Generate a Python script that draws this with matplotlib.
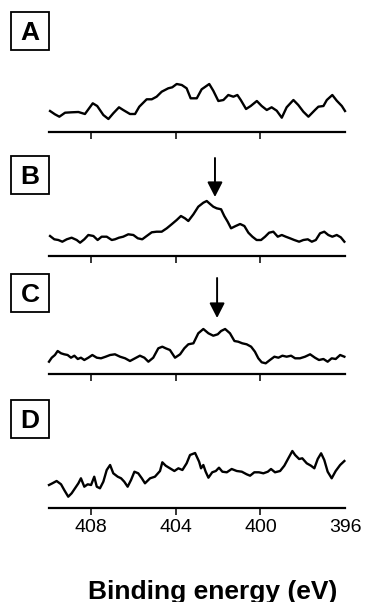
import numpy as np
import matplotlib
matplotlib.use('Agg')
import matplotlib.pyplot as plt
from matplotlib.patches import Rectangle

plt.rcParams['font.family'] = ['Liberation Sans', 'DejaVu Sans']

# binding energy (eV) and intensity (arb. units)
eA = [409.95, 409.72, 409.51, 409.24, 408.93, 408.61, 408.30, 407.93, 407.72, 407.43,
      407.19, 406.96, 406.69, 406.49, 406.17, 405.93, 405.73, 405.38, 405.14, 404.91,
      404.67, 404.36, 404.17, 403.96, 403.72, 403.49, 403.30, 403.01, 402.78, 402.42,
      402.23, 401.99, 401.75, 401.52, 401.28, 401.09, 400.93, 400.68, 400.46, 400.17,
      399.94, 399.70, 399.47, 399.23, 398.99, 398.76, 398.44, 398.21, 397.97, 397.73,
      397.42, 397.26, 397.02, 396.86, 396.60, 396.39, 396.15, 396.00]
iA = [21, 17.7, 15.3, 19.3, 19.7, 20, 18, 28.7, 26, 17,
      13, 18.7, 24.7, 22, 18, 18, 25.3, 32.7, 32.7, 35.3,
      40.3, 43.7, 44.7, 48, 47, 43.7, 33.7, 33.7, 42.7, 48,
      41.3, 31, 32, 37, 35.3, 37, 32, 23, 26, 31,
      26, 22, 24.7, 21.3, 14.3, 24.7, 32, 27, 20.3, 15.3,
      22, 25.3, 26, 32, 37, 31.3, 26, 21]

eB = [409.95, 409.75, 409.56, 409.37, 409.16, 408.93, 408.69, 408.53, 408.33, 408.14,
      407.90, 407.70, 407.51, 407.27, 407.03, 406.88, 406.69, 406.49, 406.25, 406.01,
      405.80, 405.59, 405.38, 405.14, 404.91, 404.67, 404.43, 404.20, 403.96, 403.76,
      403.57, 403.41, 403.17, 402.94, 402.70, 402.54, 402.38, 402.23, 402.07, 401.86,
      401.71, 401.55, 401.39, 401.17, 400.96, 400.76, 400.57, 400.38, 400.18, 399.97,
      399.78, 399.59, 399.39, 399.18, 398.99, 398.80, 398.60, 398.40, 398.17, 397.97,
      397.76, 397.57, 397.38, 397.18, 396.98, 396.79, 396.60, 396.39, 396.20, 396.03]
iB = [19.7, 16.4, 15.7, 14, 16.4, 18, 15.7, 13, 16.4, 20.7,
      19.7, 15.7, 19, 19, 15.7, 16.4, 18, 19, 21.4, 20.7,
      17.4, 16.4, 19.7, 23.4, 24, 24, 27.4, 31.4, 35.7, 39.7,
      37.4, 34.7, 41.4, 49, 53, 54.7, 51.7, 49, 47.4, 46.4,
      39.7, 34, 27.4, 29.7, 31.7, 29.7, 23, 19, 15.7, 15.7,
      19, 23, 24, 19, 20.7, 19, 17.4, 15.7, 14, 15.7,
      16.4, 14, 15.7, 22.4, 24, 20.7, 19, 20.7, 18.4, 14]

eC = [410.00, 409.87, 409.72, 409.59, 409.43, 409.28, 409.12, 408.96, 408.80, 408.64,
      408.49, 408.33, 408.14, 407.95, 407.74, 407.54, 407.32, 407.11, 406.88, 406.64,
      406.40, 406.17, 405.93, 405.70, 405.49, 405.30, 405.07, 404.83, 404.64, 404.48,
      404.28, 404.04, 403.80, 403.60, 403.41, 403.17, 402.94, 402.70, 402.46, 402.23,
      402.02, 401.86, 401.67, 401.44, 401.23, 401.05, 400.86, 400.65, 400.44, 400.26,
      400.10, 399.94, 399.75, 399.55, 399.34, 399.15, 398.96, 398.76, 398.55, 398.36,
      398.13, 397.89, 397.65, 397.42, 397.23, 397.02, 396.82, 396.63, 396.44, 396.23,
      396.03]
iC = [12.3, 16.3, 19, 23, 20.7, 19.7, 19, 16.3, 18.3, 15,
      16.3, 14, 16.3, 19, 16.3, 15.7, 17.3, 19, 19.7, 17.3,
      15.7, 13, 15.7, 18.3, 16.3, 12.3, 16.3, 25.7, 27.3, 25.7,
      24, 16.3, 19.7, 25.7, 29.7, 30.7, 40.7, 45, 40.7, 38.3,
      39.7, 43, 45, 40.7, 33, 32.3, 30.7, 29.7, 27.3, 22.3,
      15.7, 11.7, 10.7, 14, 17.3, 16.3, 18.3, 17.3, 18.3, 15.7,
      15.7, 17.3, 19.7, 16.3, 14, 15, 12.3, 15.7, 15, 19,
      17.3]

eD = [410.00, 409.84, 409.64, 409.43, 409.28, 409.09, 408.93, 408.77, 408.61, 408.49,
      408.33, 408.17, 408.01, 407.86, 407.74, 407.59, 407.43, 407.27, 407.11, 406.96,
      406.75, 406.59, 406.44, 406.28, 406.12, 405.96, 405.78, 405.61, 405.46, 405.22,
      404.99, 404.75, 404.64, 404.48, 404.28, 404.07, 403.88, 403.69, 403.49, 403.33,
      403.09, 402.90, 402.81, 402.70, 402.59, 402.46, 402.28, 402.11, 401.96, 401.80,
      401.59, 401.36, 401.12, 400.88, 400.65, 400.49, 400.29, 400.07, 399.86, 399.65,
      399.50, 399.31, 399.07, 398.87, 398.68, 398.49, 398.36, 398.17, 398.02, 397.81,
      397.61, 397.45, 397.29, 397.13, 396.98, 396.82, 396.63, 396.44, 396.23, 396.03]
iD = [22.7, 24.4, 26.7, 23.4, 17.7, 11, 14.4, 19.4, 24.4, 29.4,
      21, 23.4, 22.7, 31, 21, 19.4, 26, 37.7, 42.7, 34.4,
      31, 29.4, 26, 21, 27.7, 36, 34.4, 29.4, 24.4, 29.4,
      31, 36.7, 45.4, 42, 39.4, 36.7, 39.4, 37.7, 44.4, 52.7,
      54.7, 46, 39.4, 42.7, 36, 30, 35.4, 36.7, 40, 36,
      35.4, 38.7, 36.7, 36, 33.4, 32, 35.4, 35.4, 34.4, 36,
      38.7, 35.4, 36.7, 42, 49.4, 56.7, 52.7, 48.7, 49.4, 44.4,
      42, 39.4, 48.7, 54.4, 47.7, 36, 29.4, 36.7, 42.7, 46.7]

panel_labels = ['A', 'B', 'C', 'D']
energies = [eA, eB, eC, eD]
intens = [iA, iB, iC, iD]
tick_vals = [408, 404, 400, 396]
arrow_pos = {1: 402.15, 2: 402.05}   # N 1s marker (eV)

W, H = 369, 602
fig = plt.figure(figsize=(W / 100, H / 100), dpi=100)

axis_y = [132, 255.7, 374, 507.7]     # pixel row of each baseline
box_top = [12, 156, 274, 400]
arrow_span = {1: (58.7, 97.7), 2: (56, 96)}

for k in range(4):
    yb = axis_y[k]
    ax = fig.add_axes([49 / W, (H - yb) / H, 296 / W, 60 / H])
    ax.plot(energies[k], intens[k], color='black', lw=1.7, clip_on=False)
    ax.set_xlim(410, 396)
    ax.set_ylim(0, 60)
    ax.patch.set_visible(False)
    for s in ['left', 'right', 'top']:
        ax.spines[s].set_visible(False)
    ax.spines['bottom'].set_linewidth(1.6)
    ax.set_yticks([])
    ax.set_xticks(tick_vals)
    ax.tick_params(axis='x', direction='out', length=5, width=1.1, pad=3,
                   labelsize=14)
    ax.xaxis.get_major_ticks()[-1].tick1line.set_visible(False)
    if k < 3:
        ax.set_xticklabels([])
    if k in arrow_pos:
        tip, tail = arrow_span[k]
        ax.annotate('', xy=(arrow_pos[k], tip), xytext=(arrow_pos[k], tail),
                    annotation_clip=False,
                    arrowprops=dict(arrowstyle='-|>,head_length=0.45,head_width=0.23',
                                    mutation_scale=20, lw=1.4, color='black',
                                    shrinkA=0, shrinkB=0))

    # boxed panel letter
    bt = box_top[k]
    fig.patches.append(Rectangle((11 / W, (H - bt - 38) / H), 38 / W, 38 / H,
                                 transform=fig.transFigure, fill=False,
                                 ec='black', lw=1.3))
    fig.text(30 / W, (H - bt - 19) / H, panel_labels[k], ha='center',
             va='center_baseline', fontsize=19, fontweight='bold')

fig.text(213 / W, 2.5 / H, 'Binding energy (eV)', ha='center', va='baseline',
         fontsize=19, fontweight='bold')

fig.savefig('out.png', dpi=100)
